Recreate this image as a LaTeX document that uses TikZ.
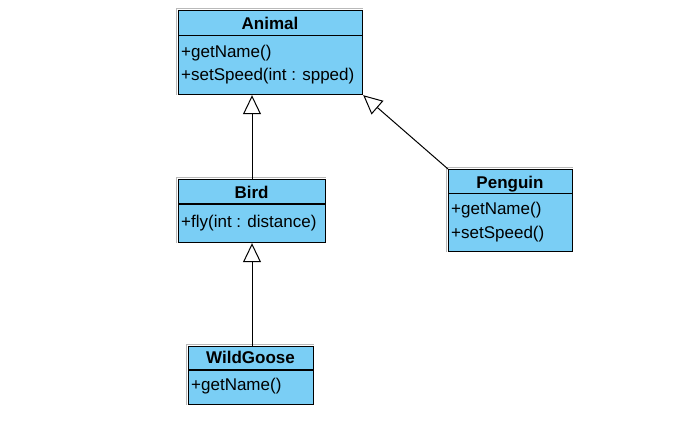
\documentclass[tikz,border=0pt]{standalone}
\usepackage{fontspec}
\setmainfont{Liberation Sans}
\usetikzlibrary{arrows.meta}
\definecolor{umlblue}{RGB}{122,206,245}
\definecolor{shadowgrey}{RGB}{185,185,185}
\tikzset{
  umlbox/.style={draw=black, line width=1.2pt, fill=umlblue, inner sep=0pt, anchor=north west},
  sepline/.style={draw=black, line width=1.2pt},
  outline/.style={draw=shadowgrey, line width=0.9pt},
  title/.style={anchor=base, font=\fontsize{17}{20}\selectfont\bfseries, inner sep=0pt},
  member/.style={anchor=base west, font=\fontsize{17}{20}\selectfont, inner sep=0pt},
  inherit/.style={draw=black, line width=1pt, -{Triangle[open, length=19pt, width=18pt, line width=1pt]}}
}
\begin{document}
\begin{tikzpicture}[x=1pt,y=-1pt]
\useasboundingbox (0,0) rectangle (692,420);
% Animal
\node[umlbox, minimum width=184pt, minimum height=84pt] (animal) at (178,10) {};
\draw[outline] ([xshift=-1.6pt]animal.south west) -- ([shift={(-1.6pt,1.6pt)}]animal.north west) -- ([yshift=1.6pt]animal.north east);
\draw[sepline] (178,35.5) -- (362,35.5);
\node[title] (animalt) at (270,30) {Animal};
\node[member] (animal1) at (181,57) {+getName()};
\node[member] (animal2) at (181,80) {+setSpeed(int : spped)};
% Bird
\node[umlbox, minimum width=147pt, minimum height=63pt] (bird) at (178,179) {};
\draw[outline] ([xshift=-1.6pt]bird.south west) -- ([shift={(-1.6pt,1.6pt)}]bird.north west) -- ([yshift=1.6pt]bird.north east);
\draw[sepline] (178,204) -- (325,204);
\node[title] (birdt) at (251.5,198) {Bird};
\node[member] (bird1) at (181,227) {+fly(int : distance)};
% Penguin
\node[umlbox, minimum width=124pt, minimum height=82pt] (penguin) at (448,169) {};
\draw[outline] ([xshift=-1.6pt]penguin.south west) -- ([shift={(-1.6pt,1.6pt)}]penguin.north west) -- ([yshift=1.6pt]penguin.north east);
\draw[sepline] (448,193.5) -- (572,193.5);
\node[title] (penguint) at (510,188) {Penguin};
\node[member] (penguin1) at (451,214) {+getName()};
\node[member] (penguin2) at (451,238) {+setSpeed()};
% WildGoose
\node[umlbox, minimum width=125pt, minimum height=58pt] (goose) at (188,346) {};
\draw[outline] ([xshift=-1.6pt]goose.south west) -- ([shift={(-1.6pt,1.6pt)}]goose.north west) -- ([yshift=1.6pt]goose.north east);
\draw[sepline] (188,370) -- (313,370);
\node[title] (gooset) at (250.5,363) {WildGoose};
\node[member] (goose1) at (191,390) {+getName()};
% Inheritance arrows
\coordinate (birdtop) at (252,179);
\coordinate (goosetop) at (252,346);
\draw[inherit] (birdtop) -- (birdtop |- animal.south);
\draw[inherit] (goosetop) -- (goosetop |- bird.south);
\draw[inherit] (penguin.north west) -- (animal.south east);
\end{tikzpicture}
\end{document}
